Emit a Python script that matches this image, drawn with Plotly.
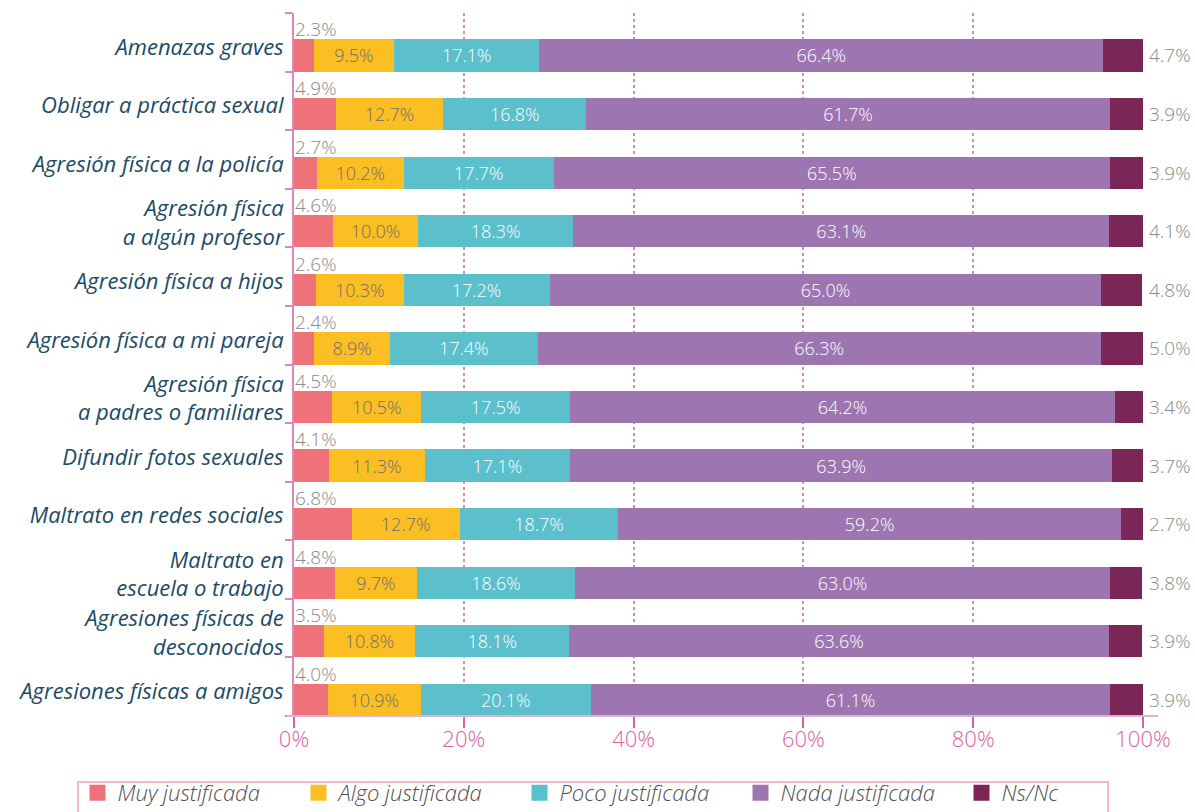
import plotly.graph_objects as go

categories = [
    "Amenazas graves",
    "Obligar a práctica sexual",
    "Agresión física a la policía",
    "Agresión física<br>a algún profesor",
    "Agresión física a hijos",
    "Agresión física a mi pareja",
    "Agresión física<br>a padres o familiares",
    "Difundir fotos sexuales",
    "Maltrato en redes sociales",
    "Maltrato en<br>escuela o trabajo",
    "Agresiones físicas de<br>desconocidos",
    "Agresiones físicas a amigos",
]
series_names = ["Muy justificada", "Algo justificada", "Poco justificada", "Nada justificada", "Ns/Nc"]
muy = [2.3, 4.9, 2.7, 4.6, 2.6, 2.4, 4.5, 4.1, 6.8, 4.8, 3.5, 4.0]
algo = [9.5, 12.7, 10.2, 10.0, 10.3, 8.9, 10.5, 11.3, 12.7, 9.7, 10.8, 10.9]
poco = [17.1, 16.8, 17.7, 18.3, 17.2, 17.4, 17.5, 17.1, 18.7, 18.6, 18.1, 20.1]
nada = [66.4, 61.7, 65.5, 63.1, 65.0, 66.3, 64.2, 63.9, 59.2, 63.0, 63.6, 61.1]
nsnc = [4.7, 3.9, 3.9, 4.1, 4.8, 5.0, 3.4, 3.7, 2.7, 3.8, 3.9, 3.9]
tick_values = [0, 20, 40, 60, 80, 100]

colors = ["#ef727b", "#fbbf24", "#5bbfcc", "#9d76b1", "#7a2656"]
inside_font_colors = [None, "#6e6e6e", "#ffffff", "#ffffff", None]
values = [muy, algo, poco, nada, nsnc]

FONT = "Open Sans"
PINK = "#d6639f"
GRAY = "#8a8a8a"
NAVY = "#1b4a66"

pos = list(range(len(categories)))

fig = go.Figure()
for k, (name, vals) in enumerate(zip(series_names, values)):
    show_inside = inside_font_colors[k] is not None
    fig.add_trace(go.Bar(
        name=name,
        y=pos,
        x=vals,
        orientation="h",
        width=0.55,
        offset=-0.05,
        marker=dict(color=colors[k], line=dict(width=0)),
        text=[f"{v:.1f}%" for v in vals] if show_inside else None,
        textposition="inside" if show_inside else "none",
        insidetextanchor="middle",
        textangle=0,
        constraintext="none",
        insidetextfont=dict(family=FONT, size=18, weight=300,
                            color=inside_font_colors[k] or "#fff"),
        hoverinfo="skip",
        showlegend=False,
        legendgroup=name,
    ))
    # legend entry with a larger square swatch
    fig.add_trace(go.Scatter(
        name=name, x=[None], y=[None], mode="markers",
        marker=dict(symbol="square", size=16, color=colors[k]),
        legendgroup=name, showlegend=True, hoverinfo="skip",
    ))

annotations = []
# Labels for the small first segment: above the bar, at its start
for p, v in zip(pos, muy):
    annotations.append(dict(
        x=0, y=p - 0.22, xref="x", yref="y", text=f"{v:.1f}%",
        showarrow=False, xanchor="left", yanchor="middle", xshift=-1,
        font=dict(family=FONT, size=19, weight=300, color=GRAY),
    ))
# Labels for Ns/Nc: right of the bar end
for p, v in zip(pos, nsnc):
    annotations.append(dict(
        x=100, y=p + 0.225, xref="x", yref="y", text=f"{v:.1f}%",
        showarrow=False, xanchor="left", yanchor="middle", xshift=4,
        font=dict(family=FONT, size=19, weight=300, color=GRAY),
    ))

fig.update_layout(
    barmode="stack",
    width=1195, height=812,
    margin=dict(l=294, r=52, t=13, b=96, autoexpand=False),
    plot_bgcolor="white", paper_bgcolor="white",
    font=dict(family=FONT),
    annotations=annotations,
    legend=dict(
        orientation="h",
        x=-0.255, xanchor="left",
        y=-0.0797, yanchor="top",
        borderwidth=0,
        bgcolor="rgba(0,0,0,0)",
        font=dict(family=FONT, size=22, weight=300, color="#505050", style="italic"),
        entrywidth=176,
        traceorder="normal",
    ),
    xaxis=dict(
        range=[0, 100],
        tickvals=tick_values,
        ticktext=[f"{t}%" for t in tick_values],
        tickfont=dict(family=FONT, size=22, weight=300, color=PINK),
        ticks="outside", ticklen=11, tickcolor=PINK, tickwidth=1.5,
        ticklabelstandoff=-7,
        showgrid=True, gridcolor="#d98abb", griddash="dot", gridwidth=1.5,
        zeroline=False,
        showline=False,
    ),
    yaxis=dict(
        range=[11.5, -0.5],
        tickvals=[p + 0.08 for p in pos],
        ticktext=categories,
        tickfont=dict(family=FONT, size=22, color=NAVY, style="italic"),
        ticks="", ticklen=0,
        ticklabelstandoff=4,
        showgrid=False, zeroline=False,
        showline=True, linecolor="#d98abb", linewidth=2,
        minor=dict(
            tickvals=[p - 0.5 for p in range(len(categories) + 1)],
            ticks="outside", ticklen=7, tickcolor="#d98abb", tickwidth=2,
            showgrid=False,
        ),
    ),
    shapes=[
        dict(
            type="line", xref="x domain", yref="y domain",
            x0=-0.008, x1=1.018, y0=0, y1=0,
            line=dict(color="#d9b3d3", width=2),
        ),
        # legend frame (bottom edge falls below the page, as in the original)
        dict(
            type="rect", xref="paper", yref="paper",
            x0=-0.2544, x1=0.9588, y0=-0.0939, y1=-0.17,
            line=dict(color="#f3a2aa", width=1.5),
            fillcolor="rgba(0,0,0,0)", layer="below",
        ),
    ],
)

fig.write_html("out.html", config={"displayModeBar": False},
               post_script="document.body.style.margin='0';")
